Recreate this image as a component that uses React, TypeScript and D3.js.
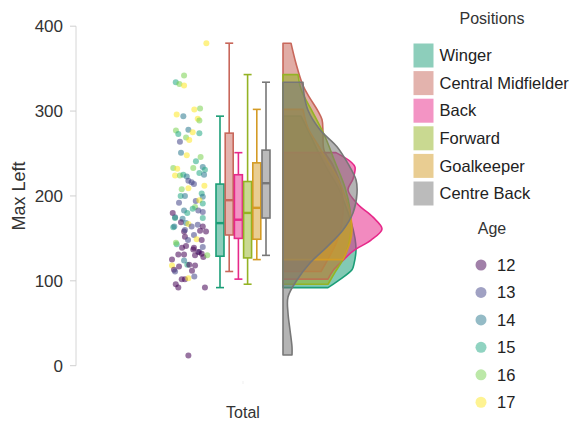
import React from "react";
import * as d3 from "d3";

const positions = ["Winger", "Central Midfielder", "Back", "Forward", "Goalkeeper", "Centre Back"];
const positionColors = ["#1b9e77", "#c8675b", "#e7298a", "#94b324", "#d49b25", "#777777"];
const boxMin = [92, 111, 102, 96, 125, 130];
const boxQ1 = [129, 154, 150, 127, 149, 174];
const boxMedian = [168, 195, 172, 180, 186, 215];
const boxQ3 = [214, 274, 225, 217, 239, 254];
const boxMax = [294, 380, 251, 343, 302, 334];

// half-violin density profiles: [value, relative density]
const densityWinger = [[294, .18], [270, .28], [250, .36], [230, .45], [210, .55], [190, .62], [170, .68], [150, .72], [136, .73], [120, .71], [113, .69], [100, .55], [92, .45]];
const densityCentralMid = [[380, .08], [356, .13], [330, .2], [317, .26], [300, .35], [290, .39], [275, .40], [254, .41], [236, .5], [210, .58], [180, .6], [150, .55], [130, .47], [111, .38]];
const densityBack = [[251, .53], [240, .68], [234, .72], [220, .70], [207, .65], [190, .75], [175, .9], [161, .99], [148, .88], [135, .7], [124, .6], [112, .5], [102, .45]];
const densityForward = [[343, .15], [330, .17], [320, .2], [298, .30], [270, .42], [240, .52], [210, .62], [184, .67], [160, .68], [130, .62], [110, .52], [96, .45]];
const densityGoalkeeper = [[302, .20], [280, .25], [260, .35], [240, .45], [220, .55], [200, .62], [180, .67], [160, .69], [145, .67], [125, .60]];
const densityCentreBack = [[334, .20], [320, .21], [301, .25], [278, .37], [258, .54], [238, .65], [219, .73], [203, .74], [180, .70], [160, .60], [140, .44], [121, .27], [101, .14], [81, .05], [62, .05], [42, .07], [22, .09], [12.6, .09]];
const densities = [densityWinger, densityCentralMid, densityBack, densityForward, densityGoalkeeper, densityCentreBack];

const ages = [12, 13, 14, 15, 16, 17];

const pointValues = [380, 342, 334, 332, 330, 302, 303, 296, 294, 291, 289, 277, 273, 278, 275, 274, 269, 266, 264, 251, 248, 246, 241, 233, 232, 233, 234, 231, 224, 224, 225, 223, 227, 225, 218, 216, 214, 212, 208, 209, 200, 203, 199, 194, 195, 191, 187, 183, 181, 183, 180, 180, 175, 173, 174, 169, 168, 167, 164, 166, 164, 163, 158, 152, 159, 154, 149, 148, 143, 141, 139, 140, 145, 131, 131, 124, 119, 137, 130, 134, 132, 128, 130, 125, 118, 113, 111, 117, 119, 118, 112, 102, 102, 103, 105, 96, 92, 92, 12, 185, 174, 164, 160, 158, 134, 148, 139, 192, 200];
const pointAges = [17, 16, 15, 16, 17, 17, 16, 17, 14, 17, 16, 16, 15, 14, 17, 15, 16, 17, 13, 14, 17, 16, 15, 16, 17, 16, 14, 15, 17, 16, 15, 14, 15, 14, 13, 13, 13, 17, 16, 17, 15, 15, 14, 13, 17, 15, 16, 13, 13, 14, 15, 12, 13, 14, 15, 12, 14, 17, 13, 13, 12, 15, 12, 12, 12, 13, 17, 12, 15, 12, 12, 13, 16, 12, 12, 14, 15, 12, 12, 13, 12, 12, 16, 12, 17, 12, 13, 12, 12, 12, 12, 12, 12, 17, 13, 12, 12, 12, 12, 15, 15, 14, 13, 12, 12, 13, 12, 13, 14];
const pointJitter = [0.91, -0.33, -0.79, -0.59, -0.33, 0.24, 0.56, -0.74, -0.37, 0.43, 0.52, -0.78, -0.65, -0.09, 0.15, 0.52, -0.22, -0.04, -0.56, -0.5, -0.18, 0.59, 0.33, -0.93, -0.71, 0.18, 0.71, 0.83, -0.83, -0.56, -0.37, -0.18, 0.52, 0.78, -0.09, 0.09, 0.22, 0.8, -0.46, -0.09, -0.52, 0.65, 0.71, 0.32, 0.52, 0.71, 0.28, 0.46, 0.71, -0.33, -0.15, -0.96, -0.83, -0.41, 0.71, -0.5, -0.22, -0.09, 0.09, 0.43, 0.71, -0.93, -0.33, -0.28, 0.56, 0.22, 0.37, 0.65, -0.74, -0.22, 0.22, 0.71, -0.78, -0.65, -0.33, -0.33, -0.15, 0.18, 0.28, 0.52, 0.65, 0.74, 0.96, -1.0, -1.0, -0.89, -0.83, -0.61, -0.04, 0.28, 0.11, -0.46, -0.28, -0.09, 0.24, -0.79, -0.65, 0.83, -0.09, 0.15, -0.83, -0.87, -0.28, 0.89, 0.46, -0.11, -0.44, -0.61, -0.28];

const categories = ["Total"];
const yTicks = [0, 100, 200, 300, 400];

const FONT = "'Liberation Sans', Arial, sans-serif";

export default function App() {
  const W = 574, H = 423;
  const y = d3.scaleLinear().domain([0, 400]).range([365.7, 26.2]);
  const x = d3.scaleBand().domain(categories).range([76, 410]);
  const cx = (x("Total") ?? 0) + x.bandwidth() / 2;
  const boxPos = d3.scalePoint().domain(positions).range([cx - 23, cx + 23]);
  const boxW = 8;
  const jitter = d3.scaleLinear().domain([-1, 1]).range([cx - 71, cx - 35]);
  const violinBase = cx + 40;
  const dens = d3.scaleLinear().domain([0, 1]).range([0, 100]);
  const ageColor = d3.scaleOrdinal<number, string>().domain(ages).range(d3.quantize(d3.interpolateViridis, ages.length));

  const area = d3.area<number[]>()
    .y((d) => y(d[0]))
    .x0(violinBase)
    .x1((d) => violinBase + dens(d[1]))
    .curve(d3.curveCatmullRom.alpha(0.5));

  return (
    <svg width={W} height={H} style={{ position: "absolute", left: 0, top: 0 }} fontFamily={FONT}>
      {/* y axis */}
      <line x1={76} x2={76} y1={y(400)} y2={y(0)} stroke="#d6d6d6" strokeWidth={1} />
      {yTicks.map((t) => (
        <g key={t}>
          <line x1={70} x2={76} y1={y(t)} y2={y(t)} stroke="#cfcfcf" />
          <text x={63} y={y(t)} dy="0.35em" textAnchor="end" fontSize={17} fill="#333">{t}</text>
        </g>
      ))}
      <text transform={`translate(25,${(y(0) + y(400)) / 2}) rotate(-90)`} textAnchor="middle" fontSize={18} fill="#333">Max Left</text>
      {/* x axis */}
      <line x1={cx} x2={cx} y1={381} y2={384} stroke="#ddd" strokeWidth={0.5} />
      <text x={cx} y={418} textAnchor="middle" fontSize={16} fill="#333">Total</text>

      {/* jittered points */}
      {pointValues.map((v, i) => (
        <circle key={i} cx={jitter(pointJitter[i])} cy={y(v)} r={3} fill={ageColor(pointAges[i])} fillOpacity={0.55} />
      ))}

      {/* boxes */}
      {positions.map((p, i) => {
        const c = boxPos(p) ?? 0;
        const col = positionColors[i];
        return (
          <g key={p} stroke={col} strokeWidth={1.6}>
            <line x1={c} x2={c} y1={y(boxMax[i])} y2={y(boxQ3[i])} />
            <line x1={c} x2={c} y1={y(boxQ1[i])} y2={y(boxMin[i])} />
            <line x1={c - boxW / 2} x2={c + boxW / 2} y1={y(boxMax[i])} y2={y(boxMax[i])} />
            <line x1={c - boxW / 2} x2={c + boxW / 2} y1={y(boxMin[i])} y2={y(boxMin[i])} />
            <rect x={c - boxW / 2} width={boxW} y={y(boxQ3[i])} height={y(boxQ1[i]) - y(boxQ3[i])} fill={col} fillOpacity={0.5} />
            <line x1={c - boxW / 2} x2={c + boxW / 2} y1={y(boxMedian[i])} y2={y(boxMedian[i])} strokeWidth={2.4} />
          </g>
        );
      })}

      {/* half violins */}
      {positions.map((p, i) => (
        <path key={p} d={area(densities[i]) ?? ""} fill={positionColors[i]} fillOpacity={0.55} stroke={positionColors[i]} strokeWidth={1.6} strokeLinejoin="round" />
      ))}

      {/* legend: positions */}
      <text x={492} y={24} textAnchor="middle" fontSize={16} fill="#333">Positions</text>
      {positions.map((p, i) => (
        <g key={p} transform={`translate(413.5,${43.5 + i * 27.6})`}>
          <rect width={20} height={24} fill={positionColors[i]} fillOpacity={0.5} />
          <text x={26} y={12} dy="0.35em" fontSize={16.5} fill="#222">{p}</text>
        </g>
      ))}
      {/* legend: age */}
      <text x={492} y={234} textAnchor="middle" fontSize={16} fill="#333">Age</text>
      {ages.map((a, i) => (
        <g key={a} transform={`translate(481,${265 + i * 27.45})`}>
          <circle r={5.5} fill={ageColor(a)} fillOpacity={0.5} />
          <text x={16} y={0} dy="0.35em" fontSize={16.5} fill="#222">{a}</text>
        </g>
      ))}
    </svg>
  );
}
